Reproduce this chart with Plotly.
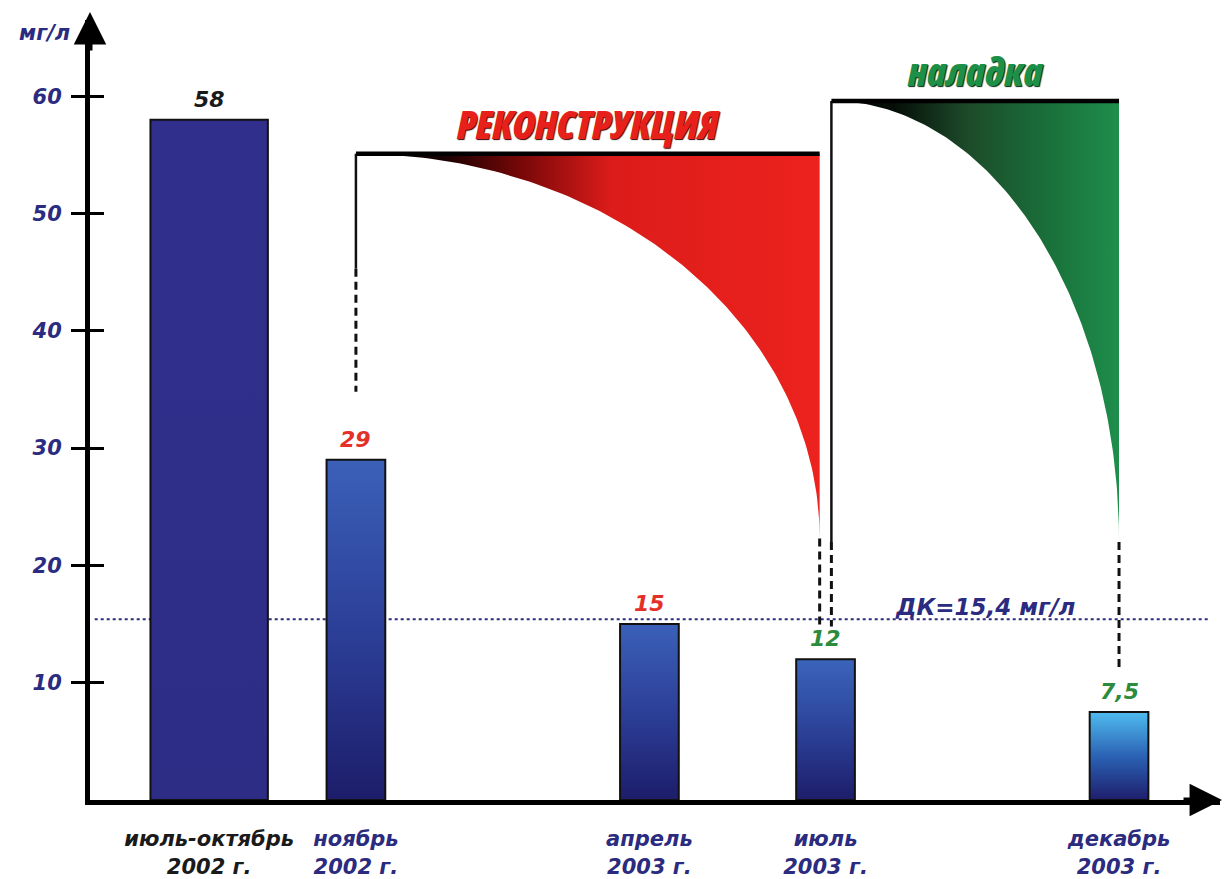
import numpy as np
import plotly.graph_objects as go

# ---- data -------------------------------------------------------------
# x positions are months counted from January 2002 (= 1)
period_labels = ["июль-октябрь<br>2002 г.", "ноябрь<br>2002 г.", "апрель<br>2003 г.",
                 "июль<br>2003 г.", "декабрь<br>2003 г."]
period_month = [8.5, 11, 16, 19, 24]
period_span = [2, 1, 1, 1, 1]          # bar width, months
concentration = [58, 29, 15, 12, 7.5]  # мг/л
value_text = ["58", "29", "15", "12", "7,5"]

limit_value = 15.4
limit_text = "ДК=15,4 мг/л"

y_ticks = [10, 20, 30, 40, 50, 60]

# work phases: reconstruction and commissioning
phase_names = ["РЕКОНСТРУКЦИЯ", "наладка"]
phase_start = [11, 19.1]
phase_end = [18.9, 24]
phase_top = [55.1, 59.6]
phase_tip = [22.3, 22.0]
phase_left_solid_to = [45.3, 22.0]
phase_left_dash_to = [34.8, 14.8]
phase_right_dash_to = [14.8, 11.0]

# ---- styles -----------------------------------------------------------
NAVY = "#2b2b80"
value_colors = ["#1a1a1a", "#e5302a", "#e5302a", "#2a8c3c", "#2a8c3c"]
label_colors = ["#1a1a1a", NAVY, NAVY, NAVY, NAVY]
bar_top_colors = ["#30308c", "#3b60b8", "#3b60b8", "#3b64bb", "#4fbcef"]
bar_mid_colors = ["#2f2f8a", "#2c3f98", "#2c3f98", "#2c4299", "#2b62b4"]
bar_base_colors = ["#2d2d86", "#1d1d6a", "#1d1d6a", "#1d1d6a", "#1e1e6c"]
phase_colors = ["#e8201c", "#1c9048"]
phase_gradients = [
    [[0, "#000000"], [0.18, "#140000"], [0.36, "#7a0808"], [0.55, "#dc1c1a"], [1, "#ec221e"]],
    [[0, "#000000"], [0.22, "#050f08"], [0.47, "#1c4a29"], [0.78, "#1a733c"], [1, "#1e8e4c"]],
]
title_shadows = ["1px 1px 1px #3a0000", "1px 1px 1px #002a10"]

LABEL_FONT = "DejaVu Sans, Liberation Sans, sans-serif"
TITLE_FONT = "Open Sans, Roboto, Liberation Sans, sans-serif"

X_RANGE = [6.47, 25.72]
Y_RANGE = [0, 66.5]

fig = go.Figure()

# ---- bars (vertical gradient polygons) --------------------------------
for m, w, v, top, mid, base in zip(period_month, period_span, concentration,
                                   bar_top_colors, bar_mid_colors, bar_base_colors):
    x0, x1 = m - w / 2, m + w / 2
    fig.add_trace(go.Scatter(
        x=[x0, x1, x1, x0, x0], y=[0, 0, v, v, 0],
        mode="lines", fill="toself",
        line=dict(color="#111111", width=2),
        fillgradient=dict(type="vertical",
                          colorscale=[[0, base], [0.5, mid], [1, top]]),
        hoverinfo="skip", showlegend=False,
    ))

# value labels above bars
for m, v, t, c in zip(period_month, concentration, value_text, value_colors):
    fig.add_annotation(x=m, y=v, text=t, showarrow=False, yanchor="bottom", yshift=6,
                       font=dict(family=LABEL_FONT, size=22, color=c,
                                 weight="bold", style="italic"))

# ---- phase brackets with decaying curves ------------------------------
t = np.linspace(0, np.pi / 2, 120)
for i in range(len(phase_names)):
    x0, x1 = phase_start[i], phase_end[i]
    top, tip = phase_top[i], phase_tip[i]
    cx = x0 + (x1 - x0) * np.sin(t)
    cy = top - (top - tip) * (1 - np.cos(t))
    px = np.concatenate([cx, [x1, x0]])
    py = np.concatenate([cy, [top, top]])
    fig.add_trace(go.Scatter(
        x=px, y=py, mode="lines", fill="toself",
        line=dict(width=0, color=phase_colors[i]),
        fillgradient=dict(type="horizontal", colorscale=phase_gradients[i]),
        hoverinfo="skip", showlegend=False,
    ))
    # solid left edge
    fig.add_trace(go.Scatter(
        x=[x0, x0], y=[top, phase_left_solid_to[i]], mode="lines",
        line=dict(color="#111111", width=2.5), hoverinfo="skip", showlegend=False))
    # dashed continuation of the left edge
    fig.add_trace(go.Scatter(
        x=[x0, x0], y=[phase_left_solid_to[i], phase_left_dash_to[i]], mode="lines",
        line=dict(color="#111111", width=3, dash="8px,5px"),
        hoverinfo="skip", showlegend=False))
    # dashed drop from the curve tip
    fig.add_trace(go.Scatter(
        x=[x1, x1], y=[tip, phase_right_dash_to[i]], mode="lines",
        line=dict(color="#111111", width=3, dash="8px,5px"),
        hoverinfo="skip", showlegend=False))
    # heavy top rail
    fig.add_trace(go.Scatter(
        x=[x0, x1], y=[top, top], mode="lines",
        line=dict(color="#000000", width=4.5), hoverinfo="skip", showlegend=False))
    # phase title
    fig.add_annotation(x=(x0 + x1) / 2, y=top,
                       text=f'<span style="font-stretch:75%">{phase_names[i]}</span>',
                       showarrow=False, yanchor="bottom", yshift=2,
                       font=dict(family=TITLE_FONT, size=39, color=phase_colors[i],
                                 weight=800, style="italic",
                                 shadow=title_shadows[i]))

# invisible trace so the secondary tick axis is drawn
fig.add_trace(go.Scatter(x=[X_RANGE[0]], y=[0], yaxis="y2", mode="markers",
                         marker=dict(opacity=0), hoverinfo="skip", showlegend=False))

# ---- permissible concentration line -----------------------------------
fig.add_shape(type="line", xref="x", yref="y", x0=6.55, x1=25.55,
              y0=limit_value, y1=limit_value, layer="below",
              line=dict(color=NAVY, width=2, dash="dot"))
fig.add_annotation(x=21.72, y=limit_value, text=limit_text, showarrow=False,
                   yanchor="bottom", yshift=-3,
                   font=dict(family=LABEL_FONT, size=23, color=NAVY,
                             weight="bold", style="italic"))

# ---- axis arrows and unit ---------------------------------------------
fig.add_annotation(xref="paper", yref="paper", x=0, y=1.0102, ax=0, ay=40,
                   axref="pixel", ayref="pixel",
                   text="", showarrow=True, arrowhead=2, arrowsize=1.3,
                   arrowwidth=5, arrowcolor="#000000", standoff=0)
fig.add_annotation(xref="paper", yref="paper", x=1.0018, y=0, ax=-40, ay=0,
                   axref="pixel", ayref="pixel",
                   text="", showarrow=True, arrowhead=2, arrowsize=1.3,
                   arrowwidth=5, arrowcolor="#000000", standoff=0)
fig.add_annotation(x=X_RANGE[0], y=65.4, text="мг/л", showarrow=False,
                   xanchor="right", xshift=-18,
                   font=dict(family=LABEL_FONT, size=21, color=NAVY,
                             weight="bold", style="italic"))

tick_text = [f'<span style="color:{c}">{lab}</span>'
             for lab, c in zip(period_labels, label_colors)]

fig.update_layout(
    width=1226, height=879,
    margin=dict(l=90, r=6, t=20, b=79, autoexpand=False),
    paper_bgcolor="white", plot_bgcolor="white",
    showlegend=False,
    xaxis=dict(range=X_RANGE, showgrid=False, zeroline=False, automargin=False,
               showline=True, linewidth=5, linecolor="#000000",
               tickvals=period_month, ticktext=tick_text, ticks="",
               ticklabelstandoff=16,
               tickfont=dict(family=LABEL_FONT, size=21, color=NAVY,
                             weight="bold", style="italic")),
    yaxis=dict(range=Y_RANGE, showgrid=False, zeroline=False, automargin=False,
               showline=True, linewidth=5, linecolor="#000000",
               tickvals=y_ticks, ticks="outside", ticklen=14, tickwidth=3,
               tickcolor="#000000", ticklabelstandoff=5,
               tickfont=dict(family=LABEL_FONT, size=21, color=NAVY,
                             weight="bold", style="italic")),
    yaxis2=dict(range=Y_RANGE, overlaying="y", side="left", showgrid=False,
                zeroline=False, showline=False, showticklabels=False,
                automargin=False,
                tickvals=y_ticks, ticks="inside", ticklen=14, tickwidth=3,
                tickcolor="#000000"),
)

fig.write_html("out.html")
